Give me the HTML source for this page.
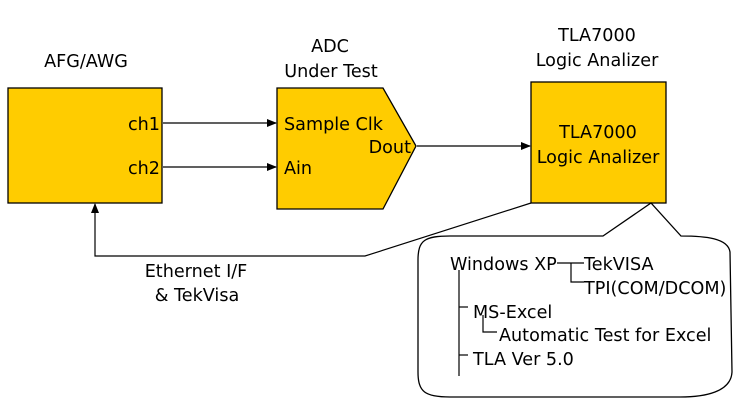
<!DOCTYPE html>
<html><head><meta charset="utf-8"><style>
html,body{margin:0;padding:0;background:#fff;}
svg{display:block;}
text{font-family:"DejaVu Sans","Liberation Sans",sans-serif;font-size:17.6px;fill:#000;}
</style></head><body>
<svg width="735" height="401" viewBox="0 0 735 401" xmlns="http://www.w3.org/2000/svg">
<defs><marker id="a" markerWidth="10" markerHeight="8" refX="9" refY="4" orient="auto" markerUnits="userSpaceOnUse"><path d="M0,0 L10,4 L0,8 z" fill="#000"/></marker></defs>
<rect x="8" y="88" width="154" height="115" fill="#FFCC00" stroke="#000" stroke-width="1.3"/>
<path d="M277,88 L383,88 L416,146 L383,209 L277,209 Z" fill="#FFCC00" stroke="#000" stroke-width="1.3"/>
<rect x="531" y="82" width="135" height="121" fill="#FFCC00" stroke="#000" stroke-width="1.3"/>
<text x="86" y="67" text-anchor="middle">AFG/AWG</text>
<text x="330" y="52" text-anchor="middle">ADC</text>
<text x="331" y="77" text-anchor="middle">Under Test</text>
<text x="597" y="41" text-anchor="middle">TLA7000</text>
<text x="597" y="66" text-anchor="middle">Logic Analizer</text>
<text x="160" y="130" text-anchor="end">ch1</text>
<text x="160" y="174" text-anchor="end">ch2</text>
<text x="284" y="130">Sample Clk</text>
<text x="284" y="174">Ain</text>
<text x="411" y="153" text-anchor="end">Dout</text>
<text x="598" y="138" text-anchor="middle">TLA7000</text>
<text x="598" y="163" text-anchor="middle">Logic Analizer</text>
<line x1="163" y1="123" x2="276" y2="123" stroke="#000" stroke-width="1.2" marker-end="url(#a)"/>
<line x1="163" y1="167" x2="276" y2="167" stroke="#000" stroke-width="1.2" marker-end="url(#a)"/>
<line x1="417" y1="146" x2="530" y2="146" stroke="#000" stroke-width="1.2" marker-end="url(#a)"/>
<path d="M531,203 L365,256 L95,256 L95,204" fill="none" stroke="#000" stroke-width="1.2" marker-end="url(#a)"/>
<text x="196" y="277" text-anchor="middle">Ethernet I/F</text>
<text x="197" y="301" text-anchor="middle">&amp; TekVisa</text>
<path d="M603,236 L651,203 L681,236 C705,236 728,238 730,252 L732,372 C731,392 705,397 680,397 L450,397 C425,397 418,392 418,372 L418,260 C418,240 425,236 450,236 Z" fill="#fff" stroke="#000" stroke-width="1.3"/>
<g stroke="#000" stroke-width="1.2" fill="none">
<path d="M459,270 V376"/>
<path d="M557,263 H584 M571,263 V282 H584"/>
<path d="M459,307 H468"/>
<path d="M483,315 V332 H497"/>
<path d="M459,355 H468"/>
</g>
<text x="450" y="270">Windows XP</text>
<text x="584" y="270">TekVISA</text>
<text x="584" y="294">TPI(COM/DCOM)</text>
<text x="473" y="318">MS-Excel</text>
<text x="499" y="341">Automatic Test for Excel</text>
<text x="473" y="365">TLA Ver 5.0</text>
</svg>
</body></html>
